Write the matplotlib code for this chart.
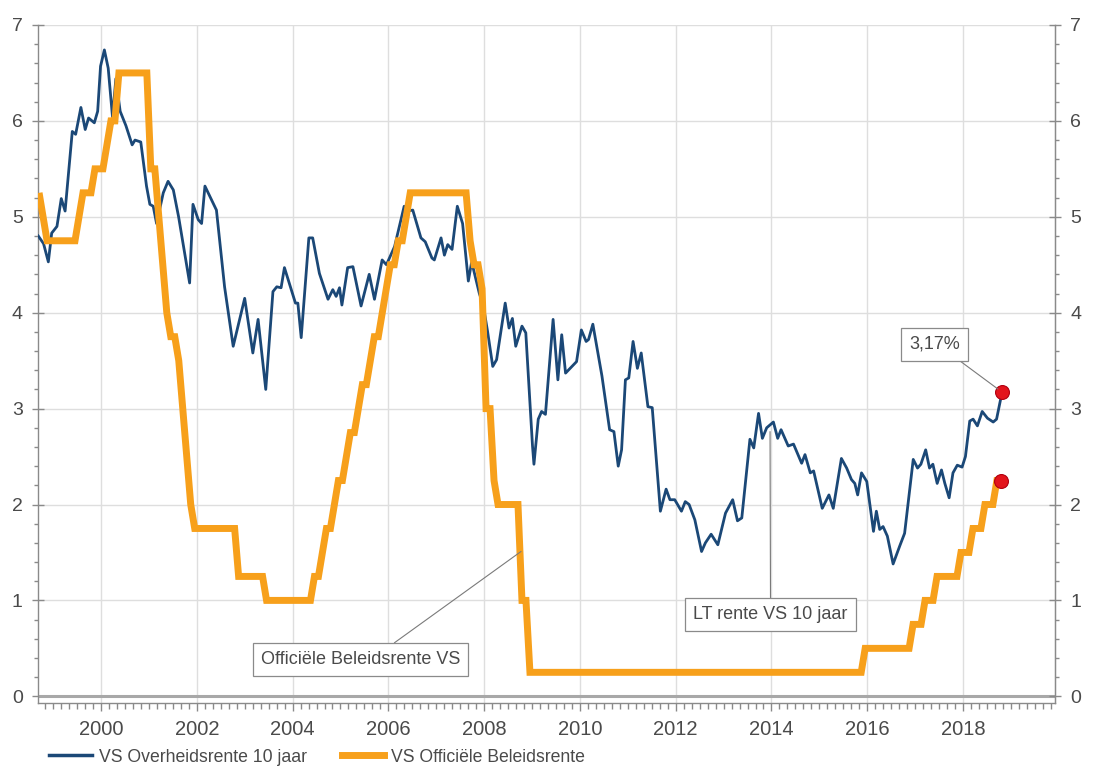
import matplotlib
matplotlib.use('Agg')
import matplotlib.pyplot as plt
import numpy as np
from matplotlib.ticker import MultipleLocator
from matplotlib.lines import Line2D

plt.rcParams['font.family'] = ['Liberation Sans', 'DejaVu Sans']

# ---------------- data ----------------
# US 10-year government bond yield (digitised vertices, decimal years)
bond_t = [1998.69, 1998.80, 1998.90, 1998.97, 1999.08, 1999.17, 1999.25, 1999.40, 1999.47, 1999.58,
          1999.67, 1999.74, 1999.86, 1999.93, 1999.99, 2000.07, 2000.15, 2000.24, 2000.31, 2000.40,
          2000.52, 2000.65, 2000.71, 2000.83, 2000.95, 2001.02, 2001.09, 2001.16, 2001.30, 2001.40,
          2001.51, 2001.62, 2001.85, 2001.92, 2002.03, 2002.10, 2002.17, 2002.41, 2002.58, 2002.76,
          2003.00, 2003.17, 2003.28, 2003.44, 2003.59, 2003.67, 2003.76, 2003.83, 2004.06, 2004.11,
          2004.18, 2004.34, 2004.42, 2004.56, 2004.74, 2004.84, 2004.91, 2004.98, 2005.03, 2005.15,
          2005.26, 2005.43, 2005.60, 2005.71, 2005.87, 2005.96, 2006.13, 2006.33, 2006.40, 2006.51,
          2006.68, 2006.77, 2006.91, 2006.96, 2007.10, 2007.17, 2007.24, 2007.33, 2007.44, 2007.55,
          2007.67, 2007.74, 2007.90, 2007.98, 2008.07, 2008.18, 2008.26, 2008.44, 2008.52, 2008.59,
          2008.66, 2008.79, 2008.87, 2009.01, 2009.04, 2009.13, 2009.20, 2009.28, 2009.44, 2009.54,
          2009.62, 2009.70, 2009.93, 2010.03, 2010.13, 2010.18, 2010.27, 2010.40, 2010.46, 2010.62,
          2010.71, 2010.80, 2010.87, 2010.95, 2011.02, 2011.11, 2011.20, 2011.28, 2011.42, 2011.51,
          2011.68, 2011.80, 2011.88, 2011.98, 2012.12, 2012.20, 2012.28, 2012.40, 2012.54, 2012.62,
          2012.74, 2012.88, 2013.04, 2013.19, 2013.29, 2013.38, 2013.55, 2013.63, 2013.73, 2013.81,
          2013.90, 2014.04, 2014.13, 2014.20, 2014.35, 2014.46, 2014.63, 2014.70, 2014.81, 2014.88,
          2015.06, 2015.20, 2015.29, 2015.46, 2015.57, 2015.67, 2015.74, 2015.80, 2015.88, 2015.99,
          2016.13, 2016.19, 2016.26, 2016.33, 2016.42, 2016.54, 2016.68, 2016.78, 2016.96, 2017.05,
          2017.12, 2017.22, 2017.30, 2017.37, 2017.46, 2017.55, 2017.62, 2017.71, 2017.79, 2017.88,
          2017.98, 2018.05, 2018.14, 2018.21, 2018.30, 2018.40, 2018.51, 2018.63, 2018.70, 2018.79,
          2018.82]
bond_v = [4.80, 4.72, 4.53, 4.83, 4.90, 5.19, 5.06, 5.89, 5.86, 6.14,
          5.91, 6.03, 5.98, 6.10, 6.57, 6.74, 6.55, 6.04, 6.44, 6.10,
          5.95, 5.75, 5.80, 5.78, 5.32, 5.13, 5.11, 4.93, 5.25, 5.37,
          5.28, 5.00, 4.31, 5.13, 4.97, 4.93, 5.32, 5.07, 4.27, 3.65,
          4.15, 3.58, 3.93, 3.20, 4.22, 4.27, 4.26, 4.47, 4.10, 4.10,
          3.74, 4.78, 4.78, 4.41, 4.14, 4.24, 4.17, 4.26, 4.08, 4.47,
          4.48, 4.07, 4.40, 4.14, 4.55, 4.50, 4.69, 5.11, 5.06, 5.07,
          4.78, 4.74, 4.57, 4.55, 4.78, 4.60, 4.71, 4.66, 5.11, 4.93,
          4.33, 4.53, 4.20, 4.08, 3.81, 3.44, 3.51, 4.10, 3.84, 3.94,
          3.65, 3.86, 3.79, 2.61, 2.42, 2.89, 2.97, 2.94, 3.93, 3.30,
          3.77, 3.37, 3.49, 3.82, 3.70, 3.72, 3.88, 3.51, 3.34, 2.78,
          2.76, 2.40, 2.57, 3.30, 3.32, 3.70, 3.42, 3.58, 3.02, 3.01,
          1.93, 2.16, 2.05, 2.05, 1.93, 2.03, 2.00, 1.84, 1.51, 1.60,
          1.69, 1.58, 1.91, 2.05, 1.83, 1.86, 2.68, 2.59, 2.95, 2.69,
          2.80, 2.86, 2.69, 2.78, 2.61, 2.63, 2.43, 2.52, 2.33, 2.35,
          1.96, 2.10, 1.96, 2.48, 2.38, 2.26, 2.22, 2.10, 2.33, 2.24,
          1.72, 1.93, 1.74, 1.77, 1.67, 1.38, 1.57, 1.70, 2.47, 2.38,
          2.42, 2.57, 2.38, 2.42, 2.22, 2.36, 2.22, 2.07, 2.33, 2.41,
          2.39, 2.50, 2.87, 2.89, 2.82, 2.97, 2.90, 2.86, 2.89, 3.11,
          3.17]

# US official policy rate, monthly from Sep 1998 to Oct 2018
policy_start = (1998, 9)
policy_rate = (
    [5.25, 5.00, 4.75, 4.75] +                                                   # 1998 Sep-Dec
    [4.75, 4.75, 4.75, 4.75, 4.75, 4.75, 5.00, 5.25, 5.25, 5.25, 5.50, 5.50] +  # 1999
    [5.50, 5.75, 6.00, 6.00, 6.50, 6.50, 6.50, 6.50, 6.50, 6.50, 6.50, 6.50] +  # 2000
    [5.50, 5.50, 5.00, 4.50, 4.00, 3.75, 3.75, 3.50, 3.00, 2.50, 2.00, 1.75] +  # 2001
    [1.75, 1.75, 1.75, 1.75, 1.75, 1.75, 1.75, 1.75, 1.75, 1.75, 1.25, 1.25] +  # 2002
    [1.25, 1.25, 1.25, 1.25, 1.25, 1.00, 1.00, 1.00, 1.00, 1.00, 1.00, 1.00] +  # 2003
    [1.00, 1.00, 1.00, 1.00, 1.00, 1.25, 1.25, 1.50, 1.75, 1.75, 2.00, 2.25] +  # 2004
    [2.25, 2.50, 2.75, 2.75, 3.00, 3.25, 3.25, 3.50, 3.75, 3.75, 4.00, 4.25] +  # 2005
    [4.50, 4.50, 4.75, 4.75, 5.00, 5.25, 5.25, 5.25, 5.25, 5.25, 5.25, 5.25] +  # 2006
    [5.25, 5.25, 5.25, 5.25, 5.25, 5.25, 5.25, 5.25, 4.75, 4.50, 4.50, 4.25] +  # 2007
    [3.00, 3.00, 2.25, 2.00, 2.00, 2.00, 2.00, 2.00, 2.00, 1.00, 1.00, 0.25] +  # 2008
    [0.25, 0.25, 0.25, 0.25, 0.25, 0.25, 0.25, 0.25, 0.25, 0.25, 0.25, 0.25] +  # 2009
    [0.25, 0.25, 0.25, 0.25, 0.25, 0.25, 0.25, 0.25, 0.25, 0.25, 0.25, 0.25] +  # 2010
    [0.25, 0.25, 0.25, 0.25, 0.25, 0.25, 0.25, 0.25, 0.25, 0.25, 0.25, 0.25] +  # 2011
    [0.25, 0.25, 0.25, 0.25, 0.25, 0.25, 0.25, 0.25, 0.25, 0.25, 0.25, 0.25] +  # 2012
    [0.25, 0.25, 0.25, 0.25, 0.25, 0.25, 0.25, 0.25, 0.25, 0.25, 0.25, 0.25] +  # 2013
    [0.25, 0.25, 0.25, 0.25, 0.25, 0.25, 0.25, 0.25, 0.25, 0.25, 0.25, 0.25] +  # 2014
    [0.25, 0.25, 0.25, 0.25, 0.25, 0.25, 0.25, 0.25, 0.25, 0.25, 0.25, 0.50] +  # 2015
    [0.50, 0.50, 0.50, 0.50, 0.50, 0.50, 0.50, 0.50, 0.50, 0.50, 0.50, 0.75] +  # 2016
    [0.75, 0.75, 1.00, 1.00, 1.00, 1.25, 1.25, 1.25, 1.25, 1.25, 1.25, 1.50] +  # 2017
    [1.50, 1.50, 1.75, 1.75, 1.75, 2.00, 2.00, 2.00, 2.25, 2.25]                # 2018 Jan-Oct
)
policy_t = policy_start[0] + (policy_start[1] - 1 + np.arange(len(policy_rate))) / 12.0 + 0.04

year_ticks = [2000, 2002, 2004, 2006, 2008, 2010, 2012, 2014, 2016, 2018]
y_ticks = [0, 1, 2, 3, 4, 5, 6, 7]

label_bond = 'VS Overheidsrente 10 jaar'
label_policy = 'VS Officiële Beleidsrente'
note_policy = 'Officiële Beleidsrente VS'
note_bond = 'LT rente VS 10 jaar'
last_label = '3,17%'

# ---------------- styling ----------------
BLUE = '#1b4877'
ORANGE = '#f7a01b'
RED = '#e3141c'
GRID = '#dedede'
SPINE = '#8a8a8a'
TXT = '#4a4a4a'

fig = plt.figure(figsize=(10.95, 7.69), dpi=100)
ax = fig.add_axes([0.0347, 0.0858, 0.9288, 0.8817])
ax.set_xlim(1998.684, 2019.921)
ax.set_ylim(-0.07, 7)

ax.set_xticks(year_ticks)
ax.set_xticklabels([str(y) for y in year_ticks])
ax.xaxis.set_minor_locator(MultipleLocator(1 / 6))
ax.set_yticks(y_ticks)
ax.yaxis.set_minor_locator(MultipleLocator(0.2))

ax.grid(True, which='major', color=GRID, lw=1)
ax.set_axisbelow(True)
ax.axhline(0, color='#a8a8a8', lw=2.2, zorder=1)

ax.spines['top'].set_visible(False)
for s in ['left', 'right', 'bottom']:
    ax.spines[s].set_color(SPINE)
    ax.spines[s].set_linewidth(1)

ax.tick_params(axis='y', which='major', direction='inout', length=8, width=1, color=SPINE,
               labelsize=14, labelcolor=TXT, pad=7)
ax.tick_params(axis='y', which='minor', direction='out', length=3, width=1, color=SPINE)
ax.tick_params(axis='x', which='major', direction='out', length=6, width=1, color=SPINE,
               labelsize=14.5, labelcolor=TXT, pad=6)
ax.tick_params(axis='x', which='minor', direction='out', length=4, width=1, color=SPINE)

ax2 = ax.twinx()
ax2.set_ylim(ax.get_ylim())
ax2.set_yticks(y_ticks)
ax2.yaxis.set_minor_locator(MultipleLocator(0.2))
for s in ['top', 'left', 'bottom']:
    ax2.spines[s].set_visible(False)
ax2.spines['right'].set_color(SPINE)
ax2.tick_params(axis='y', which='major', direction='inout', length=8, width=1, color=SPINE,
                labelsize=14, labelcolor=TXT, pad=7)
ax2.tick_params(axis='y', which='minor', direction='out', length=3, width=1, color=SPINE)

ax.plot(bond_t, bond_v, color=BLUE, lw=2.0, zorder=3, solid_joinstyle='round')
ax.plot(policy_t, policy_rate, color=ORANGE, lw=5, zorder=4, solid_joinstyle='miter',
        solid_capstyle='butt')
ax.plot([bond_t[-1]], [bond_v[-1]], 'o', ms=10, mfc=RED, mec='#b00010', mew=0.8, zorder=6)
ax.plot([policy_t[-1]], [policy_rate[-1]], 'o', ms=10, mfc=RED, mec='#b00010', mew=0.8, zorder=6)

box = dict(boxstyle='square,pad=0.45', fc='white', ec=SPINE, lw=0.9)
arrow = dict(arrowstyle='-', color='#7a7a7a', lw=0.8, shrinkA=0, shrinkB=0)

ax.annotate(note_policy, xy=(2008.77, 1.51), xytext=(2005.42, 0.38),
            ha='center', va='center', fontsize=13, color=TXT, bbox=box, zorder=7,
            arrowprops=dict(arrow, relpos=(0.61, 1.0)))
ax.annotate(note_bond, xy=(2013.97, 2.76), xytext=(2013.98, 0.85),
            ha='center', va='center', fontsize=13, color=TXT, bbox=box, zorder=7,
            arrowprops=dict(arrow, relpos=(0.5, 1.0)))
ax.annotate(last_label, xy=(bond_t[-1], bond_v[-1]), xytext=(2017.40, 3.67),
            ha='center', va='center', fontsize=13, color=TXT, bbox=box, zorder=7,
            arrowprops=dict(arrow, relpos=(0.79, 0.0), shrinkB=4))

handles = [Line2D([], [], color=BLUE, lw=2.5), Line2D([], [], color=ORANGE, lw=5)]
fig.legend(handles, [label_bond, label_policy], loc='center left',
           bbox_to_anchor=(0.045, 0.0155), ncol=2, frameon=False, fontsize=12.7,
           handlelength=2.4, handletextpad=0.4, columnspacing=2.0,
           borderpad=0, borderaxespad=0, labelcolor=TXT)

fig.savefig('out.png', dpi=100)
